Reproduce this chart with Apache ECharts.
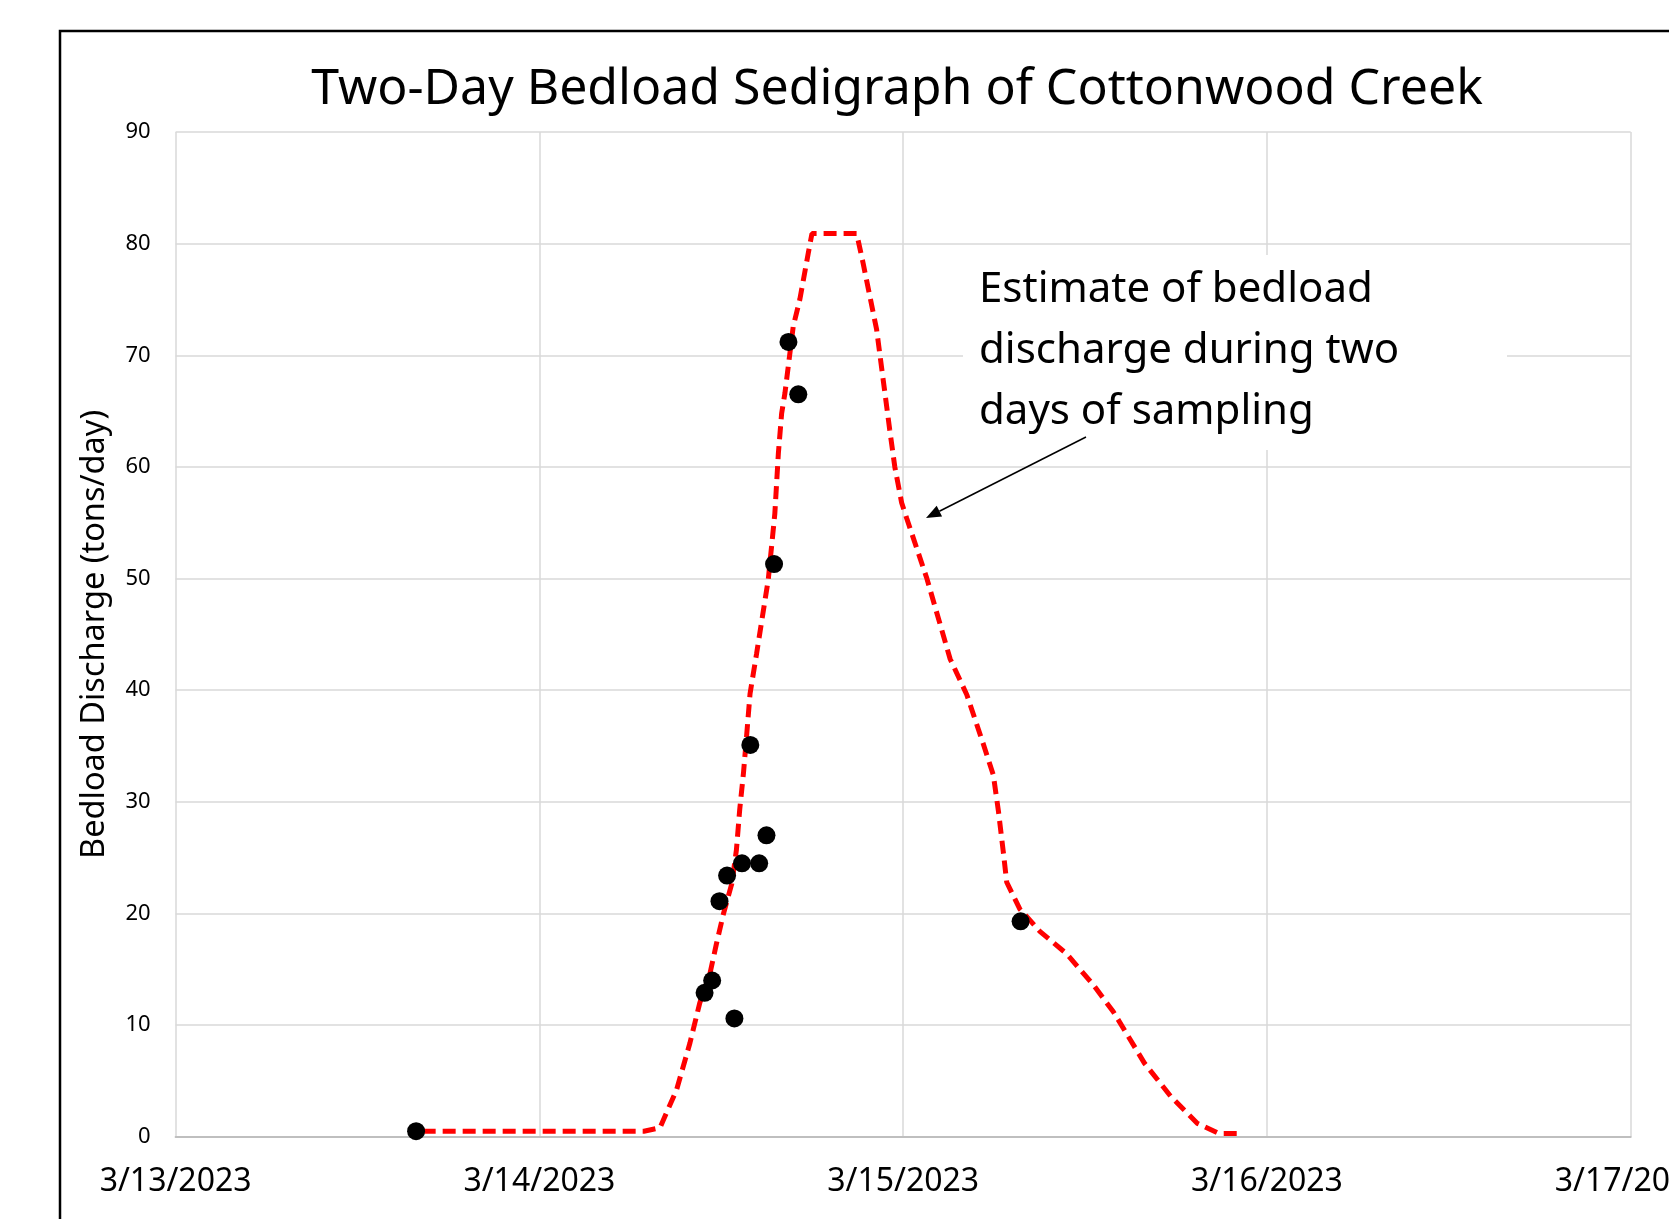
<!DOCTYPE html>
<html><head><meta charset="utf-8">
<script src="https://cdn.jsdelivr.net/npm/echarts@6/dist/echarts.min.js"></script>
<style>html,body{margin:0;padding:0;background:#fff}#c{width:1669px;height:1219px}</style>
</head><body><div id="c"></div>
<script>
const chartTitle = 'Two-Day Bedload Sedigraph of Cottonwood Creek';
const yAxisName = 'Bedload Discharge (tons/day)';
const annotationLines = ['Estimate of bedload', 'discharge during two', 'days of sampling'];
const xStart = '2023-03-13T00:00';
const xEnd = '2023-03-17T00:00';
const yTicks = [0, 10, 20, 30, 40, 50, 60, 70, 80, 90];

// Measured bedload samples
const sampleTimes = ['2023-03-13T15:52','2023-03-14T10:54','2023-03-14T11:24','2023-03-14T11:53','2023-03-14T12:23',
  '2023-03-14T12:52','2023-03-14T13:22','2023-03-14T13:55','2023-03-14T14:30','2023-03-14T14:59',
  '2023-03-14T15:29','2023-03-14T16:26','2023-03-14T17:05','2023-03-15T07:45'];
const sampleValues = [0.5, 12.9, 14.0, 21.1, 23.4, 10.6, 24.5, 35.1, 24.5, 27.0, 51.3, 71.2, 66.5, 19.3];

// Estimated bedload discharge curve
const estimateTimes = ['2023-03-13T16:18','2023-03-14T06:54','2023-03-14T07:57','2023-03-14T09:03','2023-03-14T09:56',
  '2023-03-14T10:35','2023-03-14T11:15','2023-03-14T11:41','2023-03-14T12:09','2023-03-14T12:42','2023-03-14T13:00',
  '2023-03-14T13:13','2023-03-14T13:28','2023-03-14T13:41','2023-03-14T13:54','2023-03-14T14:20','2023-03-14T15:06',
  '2023-03-14T15:32','2023-03-14T15:46','2023-03-14T15:59','2023-03-14T16:12','2023-03-14T16:45','2023-03-14T17:11',
  '2023-03-14T17:44','2023-03-14T17:59','2023-03-14T20:56','2023-03-14T21:22','2023-03-14T22:15','2023-03-14T23:07',
  '2023-03-14T23:27','2023-03-14T23:54','2023-03-15T00:14','2023-03-15T01:34','2023-03-15T03:06','2023-03-15T04:12',
  '2023-03-15T05:17','2023-03-15T05:57','2023-03-15T06:17','2023-03-15T06:36','2023-03-15T06:50','2023-03-15T07:42',
  '2023-03-15T09:01','2023-03-15T10:47','2023-03-15T12:33','2023-03-15T13:52','2023-03-15T14:51','2023-03-15T15:55',
  '2023-03-15T17:40','2023-03-15T19:25','2023-03-15T20:50','2023-03-15T22:26'];
const estimateValues = [0.5, 0.5, 0.8, 4.2, 8.4, 12.0, 14.6, 17.3, 20.0, 22.7, 25.7,
  29.3, 32.6, 36.1, 39.7, 43.3, 49.9, 55.8, 61.2, 64.8, 66.6, 72.6, 75.0,
  79.1, 80.9, 80.9, 78.2, 72.3, 63.3, 60.0, 56.8, 55.4, 50.0, 42.8, 39.6,
  35.2, 32.4, 29.2, 25.6, 22.8, 20.4, 18.4, 16.4, 13.6, 11.2, 9.0, 6.6,
  3.6, 1.2, 0.3, 0.3];

const DAY = 86400000;
const t = s => Date.parse(s + ':00Z');
const fmtDate = v => { const d = new Date(v); return (d.getUTCMonth() + 1) + '/' + d.getUTCDate() + '/' + d.getUTCFullYear(); };

const chart = echarts.init(document.getElementById('c'), null, { renderer: 'canvas' });
const FONT = '"Noto Sans", sans-serif';

// arrow geometry (pixel layout)
const aStart = [1086, 437], aTip = [926, 518];
const dx = aTip[0] - aStart[0], dy = aTip[1] - aStart[1], L = Math.hypot(dx, dy);
const ux = dx / L, uy = dy / L, hl = 15, hw = 6;
const bx = aTip[0] - ux * hl, by = aTip[1] - uy * hl;

chart.setOption({
  animation: false,
  backgroundColor: '#fff',
  title: {
    text: chartTitle, left: 892, top: 60, textAlign: 'center',
    textStyle: { fontFamily: FONT, fontSize: 50, fontWeight: 'normal', color: '#000' }
  },
  grid: { left: 175.6, right: 38.3, top: 132, bottom: 82.2, containLabel: false, outerBoundsMode: 'none' },
  xAxis: {
    type: 'value', min: t(xStart), max: t(xEnd), interval: DAY,
    axisLine: { show: true, lineStyle: { color: '#bfbfbf', width: 2 } },
    axisTick: { show: false },
    axisLabel: { formatter: fmtDate, fontFamily: FONT, fontSize: 32, color: '#000', margin: 29, hideOverlap: false },
    splitLine: { show: true, lineStyle: { color: '#d9d9d9', width: 1.5 } }
  },
  yAxis: {
    type: 'value', min: yTicks[0], max: yTicks[yTicks.length - 1], interval: yTicks[1] - yTicks[0],
    name: yAxisName, nameLocation: 'middle', nameGap: 64, nameRotate: 90,
    nameTextStyle: { fontFamily: FONT, fontSize: 32.5, color: '#000' },
    axisLine: { show: false }, axisTick: { show: false },
    axisLabel: { fontFamily: FONT, fontSize: 22, color: '#000', margin: 25 },
    splitLine: { show: true, lineStyle: { color: '#d9d9d9', width: 1.5 } }
  },
  series: [
    {
      type: 'line', name: 'Estimate', data: estimateTimes.map((s, i) => [t(s), estimateValues[i]]),
      showSymbol: false, symbol: 'none', smooth: false, z: 2,
      lineStyle: { color: '#ff0000', width: 5, type: [13, 7] }
    },
    {
      type: 'scatter', name: 'Samples', data: sampleTimes.map((s, i) => [t(s), sampleValues[i]]),
      symbol: 'circle', symbolSize: 18, z: 3,
      itemStyle: { color: '#000', opacity: 1 }
    }
  ],
  graphic: [
    { type: 'rect', z: 100, silent: true, shape: { x: 60, y: 31, width: 1700, height: 1300 },
      style: { fill: 'none', stroke: '#000', lineWidth: 2.5 } },
    { type: 'rect', z: 90, silent: true, shape: { x: 963, y: 255, width: 544, height: 195 },
      style: { fill: '#fff', stroke: 'none' } },
    { type: 'text', z: 91, silent: true, x: 979, y: 260,
      style: { text: annotationLines.join('\n'), font: '42px ' + FONT, lineHeight: 61, fill: '#000', verticalAlign: 'top', align: 'left' } },
    { type: 'line', z: 91, silent: true, shape: { x1: aStart[0], y1: aStart[1], x2: bx, y2: by },
      style: { stroke: '#000', lineWidth: 1.5 } },
    { type: 'polygon', z: 91, silent: true,
      shape: { points: [aTip, [bx - uy * hw, by + ux * hw], [bx + uy * hw, by - ux * hw]] },
      style: { fill: '#000' } }
  ]
});
</script></body></html>
